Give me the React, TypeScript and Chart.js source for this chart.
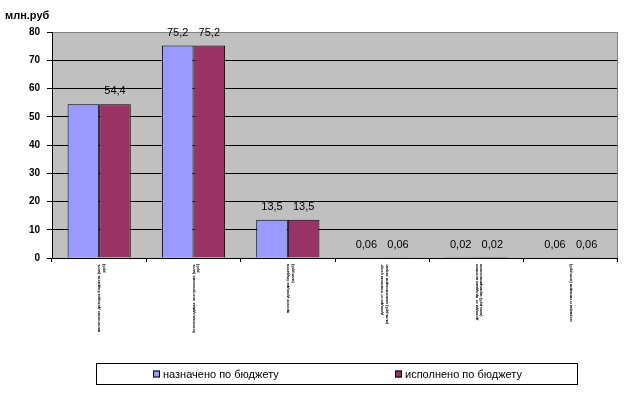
import React, { useEffect, useRef } from "react";
import { Chart, registerables } from "chart.js";

Chart.register(...registerables);

const categories: string[][] = [
  ["налоговые доходы бюджета (млн.", "руб)"],
  ["безвозмездные поступления (млн.", "руб)"],
  ["прочие доходы бюджета", "(млн.руб)"],
  ["доходы от платных услуг", "(млн.руб) компенсации затрат"],
  ["доходы от продажи активов", "(млн.руб) муниципальных"],
  ["штрафы и санкции (млн.руб)"],
];
const planned: number[] = [54.4, 75.2, 13.5, 0.06, 0.02, 0.06];
const executed: number[] = [54.4, 75.2, 13.5, 0.06, 0.02, 0.06];
const seriesNames: string[] = ["назначено по бюджету", "исполнено по бюджету"];
const colors: string[] = ["#9999FF", "#993366"];
const yTicks: number[] = [0, 10, 20, 30, 40, 50, 60, 70, 80];
const unitLabel = "млн.руб";

const fmt = (v: number) => String(v).replace(".", ",");
const FONT = "Arial, 'Liberation Sans', sans-serif";

const decoPlugin = {
  id: "deco",
  beforeDraw(chart: any) {
    const { ctx, chartArea: a } = chart;
    ctx.save();
    ctx.fillStyle = "#C0C0C0";
    ctx.fillRect(a.left, a.top, a.right - a.left, a.bottom - a.top);
    ctx.restore();
  },
  beforeDatasetsDraw(chart: any) {
    const { ctx, chartArea: a } = chart;
    ctx.save();
    ctx.strokeStyle = "#808080";
    ctx.lineWidth = 1;
    ctx.strokeRect(a.left + 0.5, a.top + 0.5, a.right - a.left - 1, a.bottom - a.top);
    ctx.restore();
  },
  afterDraw(chart: any) {
    const { ctx, chartArea: a } = chart;
    ctx.save();
    ctx.strokeStyle = "#000";
    ctx.lineWidth = 1;
    ctx.beginPath();
    ctx.moveTo(a.left + 0.5, a.top);
    ctx.lineTo(a.left + 0.5, a.bottom + 0.5);
    ctx.lineTo(a.right, a.bottom + 0.5);
    ctx.stroke();
    ctx.fillStyle = "#000";
    ctx.font = "bold 11px " + FONT;
    ctx.textBaseline = "middle";
    ctx.textAlign = "left";
    ctx.fillText(unitLabel, 5, 16);
    ctx.font = "11px " + FONT;
    ctx.textAlign = "center";
    chart.data.datasets.forEach((ds: any, di: number) => {
      const meta = chart.getDatasetMeta(di);
      meta.data.forEach((el: any, i: number) => {
        if (di === 0 && i === 0) return;
        ctx.fillText(fmt(ds.data[i]), el.x, el.y - 13);
      });
    });
    const lx = 96, ly = 363, lw = 481, lh = 21;
    ctx.strokeStyle = "#000";
    ctx.strokeRect(lx + 0.5, ly + 0.5, lw, lh);
    const itemX = [153, 395];
    chart.data.datasets.forEach((ds: any, di: number) => {
      const x = itemX[di];
      const cy = ly + lh / 2 + 1;
      ctx.fillStyle = ds.backgroundColor;
      ctx.fillRect(x, cy - 4, 7, 7);
      ctx.strokeStyle = "#000";
      ctx.strokeRect(x + 0.5, cy - 3.5, 6, 6);
      ctx.fillStyle = "#000";
      ctx.textAlign = "left";
      ctx.font = "11px " + FONT;
      ctx.fillText(ds.label, x + 10, cy);
    });
    ctx.restore();
  },
};

export default function App() {
  const ref = useRef<HTMLCanvasElement | null>(null);
  useEffect(() => {
    if (!ref.current) return;
    const chart = new Chart(ref.current, {
      type: "bar",
      data: {
        labels: categories,
        datasets: [
          { label: seriesNames[0], data: planned, backgroundColor: colors[0], borderColor: "#000", borderWidth: 1 },
          { label: seriesNames[1], data: executed, backgroundColor: colors[1], borderColor: "#000", borderWidth: 1 },
        ],
      },
      options: {
        animation: false,
        responsive: false,
        maintainAspectRatio: false,
        layout: { padding: { left: 0, top: 32, right: 6, bottom: 0 } },
        plugins: { legend: { display: false }, tooltip: { enabled: false } },
        datasets: { bar: { categoryPercentage: 0.67, barPercentage: 1 } },
        scales: {
          x: {
            border: { display: false },
            grid: { drawOnChartArea: false, drawTicks: true, tickLength: 4, color: "#000", offset: true },
            ticks: {
              minRotation: 90,
              maxRotation: 90,
              autoSkip: false,
              color: "#000",
              padding: 2,
              font: { size: 4, family: FONT, weight: "bold" },
            },
            afterFit: (s: any) => { s.height = 138; },
          },
          y: {
            min: 0,
            max: 80,
            border: { display: false },
            afterBuildTicks: (s: any) => { s.ticks = yTicks.map((v) => ({ value: v })); },
            grid: { color: "#000", tickLength: 5, drawTicks: true },
            ticks: {
              color: "#000",
              padding: 7,
              font: { size: 10, family: FONT, weight: "bold" },
            },
            afterFit: (s: any) => { s.width = 52; },
          },
        },
      },
      plugins: [decoPlugin],
    });
    return () => chart.destroy();
  }, []);
  return (
    <div style={{ position: "absolute", left: 0, top: 0, width: 624, height: 396, background: "#fff" }}>
      <canvas ref={ref} width={624} height={396} style={{ display: "block" }} />
    </div>
  );
}
